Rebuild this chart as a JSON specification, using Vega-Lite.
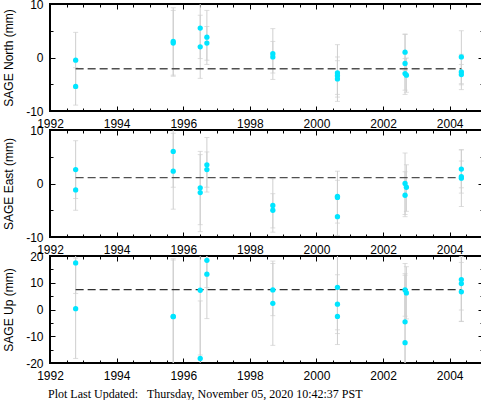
{
  "$schema": "https://vega.github.io/schema/vega-lite/v6.json",
  "padding": {"left": 0, "top": -3, "right": 1, "bottom": 0},
  "background": "white",
  "config": {
    "font": "Liberation Sans",
    "view": {"stroke": "black", "strokeWidth": 2},
    "axis": {
      "domain": false,
      "grid": false,
      "tickColor": "black",
      "tickWidth": 1,
      "labelFont": "Liberation Sans",
      "labelFontSize": 12,
      "labelColor": "black",
      "labelFlush": false,
      "labelOverlap": false,
      "titleFont": "Liberation Sans",
      "titleFontSize": 12,
      "titleFontWeight": "normal",
      "titleColor": "black"
    }
  },
  "title": {
    "text": "Plot Last Updated:\u00a0\u00a0\u00a0Thursday, November 05, 2020 10:42:37 PST",
    "orient": "bottom",
    "anchor": "start",
    "font": "Liberation Serif",
    "fontSize": 12,
    "fontWeight": "normal",
    "color": "black",
    "offset": 5,
    "dx": 47
  },
  "datasets": {
    "north": [
      {"t": 1992.77, "v": -0.5, "lo": -5.7, "hi": 4.7},
      {"t": 1992.77, "v": -5.4, "lo": -8.9, "hi": -1.9},
      {"t": 1995.70, "v": 3.0, "lo": -3.3, "hi": 9.3},
      {"t": 1995.70, "v": 2.7, "lo": -3.5, "hi": 8.8},
      {"t": 1996.51, "v": 5.5, "lo": -0.2, "hi": 11.2},
      {"t": 1996.51, "v": 2.0, "lo": -3.9, "hi": 7.9},
      {"t": 1996.71, "v": 3.8, "lo": -1.3, "hi": 8.8},
      {"t": 1996.71, "v": 2.7, "lo": -0.5, "hi": 5.8},
      {"t": 1998.69, "v": 0.7, "lo": -4.1, "hi": 5.4},
      {"t": 1998.69, "v": 0.1, "lo": -2.9, "hi": 3.0},
      {"t": 2000.63, "v": -2.9, "lo": -8.2, "hi": 2.4},
      {"t": 2000.63, "v": -3.4, "lo": -6.9, "hi": 0.1},
      {"t": 2000.63, "v": -4.0, "lo": -7.4, "hi": -0.6},
      {"t": 2002.66, "v": 1.0, "lo": -2.4, "hi": 4.4},
      {"t": 2002.66, "v": -1.1, "lo": -6.9, "hi": 4.3},
      {"t": 2002.66, "v": -3.0, "lo": -6.1, "hi": -0.2},
      {"t": 2002.70, "v": -3.3, "lo": -6.5, "hi": -0.1},
      {"t": 2004.35, "v": 0.1, "lo": -4.9, "hi": 5.0},
      {"t": 2004.35, "v": -2.7, "lo": -6.0, "hi": 0.6},
      {"t": 2004.35, "v": -3.2, "lo": -5.1, "hi": -1.3}
    ],
    "east": [
      {"t": 1992.77, "v": 2.6, "lo": -2.8, "hi": 8.0},
      {"t": 1992.77, "v": -1.2, "lo": -5.0, "hi": 2.4},
      {"t": 1995.70, "v": 6.0, "lo": -0.7, "hi": 12.7},
      {"t": 1995.70, "v": 2.3, "lo": -4.8, "hi": 9.4},
      {"t": 1996.51, "v": -0.8, "lo": -7.7, "hi": 6.0},
      {"t": 1996.51, "v": -1.7, "lo": -9.0, "hi": 5.4},
      {"t": 1996.71, "v": 3.5, "lo": -1.6, "hi": 8.6},
      {"t": 1996.71, "v": 2.6, "lo": -0.7, "hi": 5.9},
      {"t": 1998.69, "v": -4.1, "lo": -9.1, "hi": 0.9},
      {"t": 1998.69, "v": -5.0, "lo": -8.3, "hi": -1.9},
      {"t": 2000.63, "v": -2.4, "lo": -7.4, "hi": 2.3},
      {"t": 2000.63, "v": -2.6, "lo": -6.0, "hi": 0.6},
      {"t": 2000.63, "v": -6.2, "lo": -9.7, "hi": -2.8},
      {"t": 2002.66, "v": 0.0, "lo": -5.8, "hi": 5.7},
      {"t": 2002.66, "v": -2.2, "lo": -6.2, "hi": 2.2},
      {"t": 2002.70, "v": -0.7, "lo": -5.2, "hi": 3.5},
      {"t": 2004.35, "v": 2.7, "lo": -0.8, "hi": 6.3},
      {"t": 2004.35, "v": 1.3, "lo": -1.8, "hi": 4.2},
      {"t": 2004.35, "v": 1.0, "lo": -4.3, "hi": 6.3}
    ],
    "up": [
      {"t": 1992.77, "v": 17.4, "lo": 6.0, "hi": 29.0},
      {"t": 1992.77, "v": 0.3, "lo": -18.3, "hi": 19.2},
      {"t": 1995.70, "v": -2.6, "lo": -24.0, "hi": 19.0},
      {"t": 1995.70, "v": -2.7, "lo": -24.0, "hi": 18.5},
      {"t": 1996.51, "v": 7.2, "lo": -17.0, "hi": 31.0},
      {"t": 1996.51, "v": -18.3, "lo": -40.0, "hi": 3.2},
      {"t": 1996.71, "v": 18.4, "lo": 8.2, "hi": 28.7},
      {"t": 1996.71, "v": 13.2, "lo": -3.4, "hi": 30.0},
      {"t": 1998.69, "v": 7.3, "lo": -2.3, "hi": 17.2},
      {"t": 1998.69, "v": 2.3, "lo": -13.4, "hi": 18.1},
      {"t": 2000.63, "v": 8.3, "lo": -7.6, "hi": 24.5},
      {"t": 2000.63, "v": 2.0, "lo": -9.0, "hi": 13.0},
      {"t": 2000.63, "v": -2.6, "lo": -13.1, "hi": 8.0},
      {"t": 2002.66, "v": 7.3, "lo": -2.5, "hi": 17.2},
      {"t": 2002.66, "v": -4.6, "lo": -22.6, "hi": 13.4},
      {"t": 2002.66, "v": -12.4, "lo": -37.0, "hi": 12.8},
      {"t": 2002.70, "v": 6.2, "lo": -3.5, "hi": 16.0},
      {"t": 2004.35, "v": 11.2, "lo": -4.4, "hi": 27.6},
      {"t": 2004.35, "v": 9.7, "lo": -0.2, "hi": 19.8},
      {"t": 2004.35, "v": 6.6, "lo": -4.5, "hi": 17.6}
    ]
  },
  "spacing": 19,
  "bounds": "flush",
  "vconcat": [
    {
      "width": 433,
      "height": 107,
      "data": {"name": "north"},
      "resolve": {"axis": {"x": "independent", "y": "independent"}},
      "layer": [
        {
          "mark": {"type": "rule", "color": "#cfcfcf", "strokeWidth": 1, "clip": true},
          "encoding": {
            "x": {"field": "t", "type": "quantitative", "scale": {"domain": [1992, 2005], "nice": false, "zero": false},
              "axis": {"orient": "bottom", "title": null, "values": [1992, 1992.5, 1993, 1993.5, 1994, 1994.5, 1995, 1995.5, 1996, 1996.5, 1997, 1997.5, 1998, 1998.5, 1999, 1999.5, 2000, 2000.5, 2001, 2001.5, 2002, 2002.5, 2003, 2003.5, 2004, 2004.5],
                "tickSize": {"condition": {"test": "datum.value % 2 === 0", "value": -5}, "value": -3},
                "labelExpr": "datum.value % 2 === 0 ? '' + datum.value : ''", "labelPadding": 12}},
            "y": {"field": "lo", "type": "quantitative", "scale": {"domain": [-10, 10], "nice": false, "zero": false},
              "axis": {"orient": "left", "title": "SAGE North (mm)", "titleX": -35, "titleY": 53.5, "values": [-10, -5, 0, 5, 10],
                "tickSize": {"condition": {"test": "datum.value % 10 === 0", "value": -5}, "value": -3},
                "labelExpr": "datum.value % 10 === 0 ? '' + datum.value : ''", "labelPadding": 12}},
            "y2": {"field": "hi"}
          }
        },
        {
          "mark": {"type": "tick", "orient": "horizontal", "color": "#cfcfcf", "size": 5, "thickness": 1, "clip": true},
          "encoding": {
            "x": {"field": "t", "type": "quantitative",
              "axis": {"orient": "top", "title": null, "labels": false, "values": [1992, 1992.5, 1993, 1993.5, 1994, 1994.5, 1995, 1995.5, 1996, 1996.5, 1997, 1997.5, 1998, 1998.5, 1999, 1999.5, 2000, 2000.5, 2001, 2001.5, 2002, 2002.5, 2003, 2003.5, 2004, 2004.5],
                "tickSize": {"condition": {"test": "datum.value % 2 === 0", "value": -5}, "value": -3}}},
            "y": {"field": "lo", "type": "quantitative",
              "axis": {"orient": "right", "title": null, "labels": false, "values": [-10, -5, 0, 5, 10],
                "tickSize": {"condition": {"test": "datum.value % 10 === 0", "value": -5}, "value": -3}}}
          }
        },
        {
          "mark": {"type": "tick", "orient": "horizontal", "color": "#cfcfcf", "size": 5, "thickness": 1, "clip": true},
          "encoding": {
            "x": {"field": "t", "type": "quantitative", "axis": null},
            "y": {"field": "hi", "type": "quantitative", "axis": null}
          }
        },
        {
          "data": {"values": [{"t1": 1992.77, "t2": 2004.35, "m": -2.1}]},
          "mark": {"type": "rule", "color": "#505050", "strokeWidth": 1.3, "strokeDash": [8, 4]},
          "encoding": {
            "x": {"field": "t1", "type": "quantitative", "axis": null},
            "x2": {"field": "t2"},
            "y": {"field": "m", "type": "quantitative", "axis": null}
          }
        },
        {
          "mark": {"type": "circle", "color": "#00e5ff", "opacity": 1, "size": 28, "clip": true},
          "encoding": {
            "x": {"field": "t", "type": "quantitative", "axis": null},
            "y": {"field": "v", "type": "quantitative", "axis": null}
          }
        }
      ]
    },
    {
      "width": 433,
      "height": 107,
      "data": {"name": "east"},
      "resolve": {"axis": {"x": "independent", "y": "independent"}},
      "layer": [
        {
          "mark": {"type": "rule", "color": "#cfcfcf", "strokeWidth": 1, "clip": true},
          "encoding": {
            "x": {"field": "t", "type": "quantitative", "scale": {"domain": [1992, 2005], "nice": false, "zero": false},
              "axis": {"orient": "bottom", "title": null, "values": [1992, 1992.5, 1993, 1993.5, 1994, 1994.5, 1995, 1995.5, 1996, 1996.5, 1997, 1997.5, 1998, 1998.5, 1999, 1999.5, 2000, 2000.5, 2001, 2001.5, 2002, 2002.5, 2003, 2003.5, 2004, 2004.5],
                "tickSize": {"condition": {"test": "datum.value % 2 === 0", "value": -5}, "value": -3},
                "labelExpr": "datum.value % 2 === 0 ? '' + datum.value : ''", "labelPadding": 12}},
            "y": {"field": "lo", "type": "quantitative", "scale": {"domain": [-10, 10], "nice": false, "zero": false},
              "axis": {"orient": "left", "title": "SAGE East (mm)", "titleX": -35, "titleY": 53.5, "values": [-10, -5, 0, 5, 10],
                "tickSize": {"condition": {"test": "datum.value % 10 === 0", "value": -5}, "value": -3},
                "labelExpr": "datum.value % 10 === 0 ? '' + datum.value : ''", "labelPadding": 12}},
            "y2": {"field": "hi"}
          }
        },
        {
          "mark": {"type": "tick", "orient": "horizontal", "color": "#cfcfcf", "size": 5, "thickness": 1, "clip": true},
          "encoding": {
            "x": {"field": "t", "type": "quantitative",
              "axis": {"orient": "top", "title": null, "labels": false, "values": [1992, 1992.5, 1993, 1993.5, 1994, 1994.5, 1995, 1995.5, 1996, 1996.5, 1997, 1997.5, 1998, 1998.5, 1999, 1999.5, 2000, 2000.5, 2001, 2001.5, 2002, 2002.5, 2003, 2003.5, 2004, 2004.5],
                "tickSize": {"condition": {"test": "datum.value % 2 === 0", "value": -5}, "value": -3}}},
            "y": {"field": "lo", "type": "quantitative",
              "axis": {"orient": "right", "title": null, "labels": false, "values": [-10, -5, 0, 5, 10],
                "tickSize": {"condition": {"test": "datum.value % 10 === 0", "value": -5}, "value": -3}}}
          }
        },
        {
          "mark": {"type": "tick", "orient": "horizontal", "color": "#cfcfcf", "size": 5, "thickness": 1, "clip": true},
          "encoding": {
            "x": {"field": "t", "type": "quantitative", "axis": null},
            "y": {"field": "hi", "type": "quantitative", "axis": null}
          }
        },
        {
          "data": {"values": [{"t1": 1992.77, "t2": 2004.35, "m": 1.1}]},
          "mark": {"type": "rule", "color": "#505050", "strokeWidth": 1.3, "strokeDash": [8, 4]},
          "encoding": {
            "x": {"field": "t1", "type": "quantitative", "axis": null},
            "x2": {"field": "t2"},
            "y": {"field": "m", "type": "quantitative", "axis": null}
          }
        },
        {
          "mark": {"type": "circle", "color": "#00e5ff", "opacity": 1, "size": 28, "clip": true},
          "encoding": {
            "x": {"field": "t", "type": "quantitative", "axis": null},
            "y": {"field": "v", "type": "quantitative", "axis": null}
          }
        }
      ]
    },
    {
      "width": 433,
      "height": 107,
      "data": {"name": "up"},
      "resolve": {"axis": {"x": "independent", "y": "independent"}},
      "layer": [
        {
          "mark": {"type": "rule", "color": "#cfcfcf", "strokeWidth": 1, "clip": true},
          "encoding": {
            "x": {"field": "t", "type": "quantitative", "scale": {"domain": [1992, 2005], "nice": false, "zero": false},
              "axis": {"orient": "bottom", "title": null, "values": [1992, 1992.5, 1993, 1993.5, 1994, 1994.5, 1995, 1995.5, 1996, 1996.5, 1997, 1997.5, 1998, 1998.5, 1999, 1999.5, 2000, 2000.5, 2001, 2001.5, 2002, 2002.5, 2003, 2003.5, 2004, 2004.5],
                "tickSize": {"condition": {"test": "datum.value % 2 === 0", "value": -5}, "value": -3},
                "labelExpr": "datum.value % 2 === 0 ? '' + datum.value : ''", "labelPadding": 12}},
            "y": {"field": "lo", "type": "quantitative", "scale": {"domain": [-20, 20], "nice": false, "zero": false},
              "axis": {"orient": "left", "title": "SAGE Up (mm)", "titleX": -35, "titleY": 53.5, "values": [-20, -15, -10, -5, 0, 5, 10, 15, 20],
                "tickSize": {"condition": {"test": "datum.value % 10 === 0", "value": -5}, "value": -3},
                "labelExpr": "datum.value % 10 === 0 ? '' + datum.value : ''", "labelPadding": 12}},
            "y2": {"field": "hi"}
          }
        },
        {
          "mark": {"type": "tick", "orient": "horizontal", "color": "#cfcfcf", "size": 5, "thickness": 1, "clip": true},
          "encoding": {
            "x": {"field": "t", "type": "quantitative",
              "axis": {"orient": "top", "title": null, "labels": false, "values": [1992, 1992.5, 1993, 1993.5, 1994, 1994.5, 1995, 1995.5, 1996, 1996.5, 1997, 1997.5, 1998, 1998.5, 1999, 1999.5, 2000, 2000.5, 2001, 2001.5, 2002, 2002.5, 2003, 2003.5, 2004, 2004.5],
                "tickSize": {"condition": {"test": "datum.value % 2 === 0", "value": -5}, "value": -3}}},
            "y": {"field": "lo", "type": "quantitative",
              "axis": {"orient": "right", "title": null, "labels": false, "values": [-20, -15, -10, -5, 0, 5, 10, 15, 20],
                "tickSize": {"condition": {"test": "datum.value % 10 === 0", "value": -5}, "value": -3}}}
          }
        },
        {
          "mark": {"type": "tick", "orient": "horizontal", "color": "#cfcfcf", "size": 5, "thickness": 1, "clip": true},
          "encoding": {
            "x": {"field": "t", "type": "quantitative", "axis": null},
            "y": {"field": "hi", "type": "quantitative", "axis": null}
          }
        },
        {
          "data": {"values": [{"t1": 1992.77, "t2": 2004.35, "m": 7.4}]},
          "mark": {"type": "rule", "color": "#303030", "strokeWidth": 1.2, "strokeDash": [8, 4]},
          "encoding": {
            "x": {"field": "t1", "type": "quantitative", "axis": null},
            "x2": {"field": "t2"},
            "y": {"field": "m", "type": "quantitative", "axis": null}
          }
        },
        {
          "mark": {"type": "circle", "color": "#00e5ff", "opacity": 1, "size": 28, "clip": true},
          "encoding": {
            "x": {"field": "t", "type": "quantitative", "axis": null},
            "y": {"field": "v", "type": "quantitative", "axis": null}
          }
        }
      ]
    }
  ]
}
